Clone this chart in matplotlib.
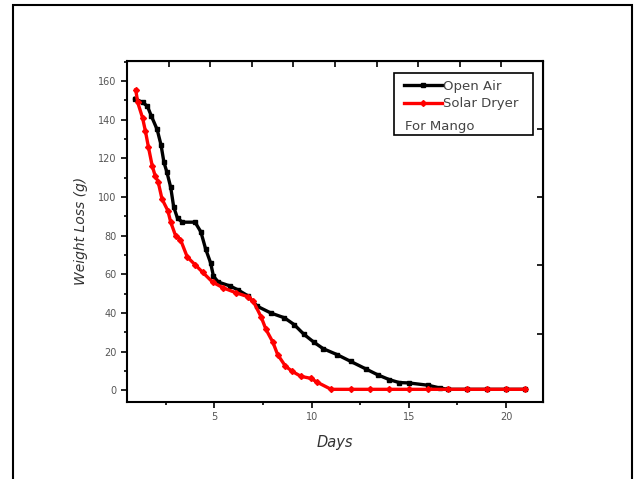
import matplotlib
matplotlib.use("Agg")
import matplotlib.pyplot as plt
from matplotlib.lines import Line2D
from matplotlib.patches import Rectangle
from matplotlib.ticker import MultipleLocator
import numpy as np

# ==========================
# DATA
# ==========================

open_air_days = [0.9, 1.3, 1.55, 1.75, 2.05, 2.25, 2.4, 2.55, 2.75, 2.9, 3.1, 3.35,
                 4.0, 4.3, 4.55, 4.8, 4.95, 5.2, 5.8, 6.2, 6.7, 7.2, 7.9, 8.6, 9.1,
                 9.6, 10.1, 10.6, 11.3, 12.0, 12.8, 13.4, 14.0, 14.5, 15.0, 16.0,
                 16.6, 17, 18, 19, 20, 21]
open_air_loss = [151, 149, 147, 142, 135, 127, 118, 113, 105, 95, 89, 87,
                 87, 82, 73, 66, 59, 56, 54, 52, 49, 43.5, 40, 37.5, 34,
                 29, 25, 21.5, 18.5, 15, 11, 8, 5.5, 4, 3.8, 2.6,
                 1.2, 0.5, 0.5, 0.5, 0.5, 0.5]

solar_days = [0.95, 1.05, 1.3, 1.45, 1.6, 1.8, 1.95, 2.1, 2.3, 2.6, 2.75, 3.0, 3.25,
              3.6, 4.0, 4.4, 4.9, 5.45, 6.1, 6.7, 7.0, 7.4, 7.65, 8.0, 8.25, 8.65,
              9.0, 9.45, 9.95, 10.3, 11, 12, 13, 14, 15, 16, 17, 18, 19, 20, 21]
solar_loss = [155.5, 149, 141, 134, 126, 116, 111, 108, 99, 93, 87, 80, 78,
              69, 65, 61, 56, 53, 50.5, 48.5, 46, 38, 31.5, 25, 18.5, 12.5,
              9.8, 7.2, 6.2, 4.1, 0.5, 0.5, 0.5, 0.5, 0.5, 0.5, 0.5, 0.5, 0.5, 0.5, 0.5]

legend_labels = ["Open Air", "Solar Dryer"]
legend_note = "For Mango"

# ==========================
# FIGURE
# ==========================

fig = plt.figure(figsize=(6.35, 4.79), dpi=100)
fig.patches.append(Rectangle((0.021, -0.02), 0.975, 1.0096, transform=fig.transFigure,
                             fill=False, edgecolor="black", linewidth=1.5))

ax = fig.add_axes([0.2, 0.161, 0.655, 0.712])

ax.plot(open_air_days, open_air_loss, color="black", linewidth=2.4,
        marker="s", markersize=3)
ax.plot(solar_days, solar_loss, color="red", linewidth=2.4,
        marker="D", markersize=3)

ax.set_xlim(0.5, 21.9)
ax.set_ylim(-6, 170.5)

ax.xaxis.set_major_locator(MultipleLocator(5))
ax.xaxis.set_minor_locator(MultipleLocator(2.5))
ax.yaxis.set_major_locator(MultipleLocator(20))
ax.yaxis.set_minor_locator(MultipleLocator(10))

ax.tick_params(which="major", direction="out", length=4, width=1.2,
               labelsize=7, labelcolor="#555555")
ax.tick_params(which="minor", direction="out", length=2.5, width=1.2)

for s in ax.spines.values():
    s.set_linewidth(1.5)

# top and right axes with their own ticks
top = ax.secondary_xaxis("top")
top.set_xticks(np.linspace(0.5, 21.9, 11))
top.tick_params(direction="in", length=4, width=1.2, labeltop=False)
right = ax.secondary_yaxis("right")
right.set_yticks(np.linspace(-6, 170.5, 6))
right.tick_params(direction="in", length=4, width=1.2, labelright=False)

ax.set_xlabel("Days", fontsize=10.5, style="italic", color="#333333", labelpad=9)
ax.set_ylabel("Weight Loss (g)", fontsize=10, style="italic", color="#333333", labelpad=7)

# ==========================
# LEGEND
# ==========================

handles = [
    Line2D([], [], color="black", linewidth=2.4, marker="s", markersize=3),
    Line2D([], [], color="red", linewidth=2.4, marker="D", markersize=3),
]
leg = ax.legend(handles, legend_labels, loc="upper left",
                bbox_to_anchor=(0.665, 0.945), frameon=False, fontsize=9.5,
                handlelength=2.9, handletextpad=0.1, labelspacing=0.36,
                borderaxespad=0, borderpad=0)
for t in leg.get_texts():
    t.set_color("#444444")

ax.add_patch(Rectangle((0.642, 0.782), 0.334, 0.182, transform=ax.transAxes,
                       fill=False, edgecolor="black", linewidth=1.2))
ax.text(0.668, 0.806, legend_note, transform=ax.transAxes, fontsize=9.5,
        color="#444444", va="center")

plt.savefig("out.png", dpi=100)
plt.close()
